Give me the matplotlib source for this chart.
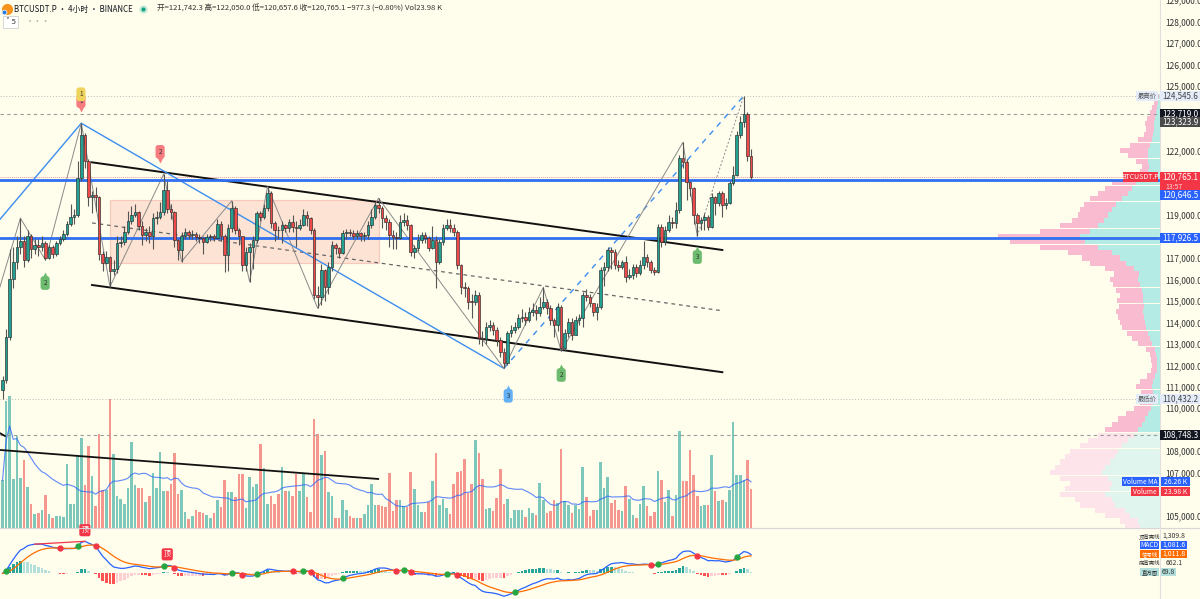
import numpy as np
import pandas as pd
import matplotlib
matplotlib.use('Agg')
import matplotlib.pyplot as plt
from matplotlib.patches import Rectangle
from matplotlib.ticker import FuncFormatter

plt.rcParams['font.family'] = ['Noto Sans CJK SC', 'DejaVu Sans']

# BTCUSDT.P 4h candles, prices in thousands of USDT (open = previous close)
first_open = 110.85
close = [111.3, 113.3, 116.0, 116.8, 117.5, 117.8, 116.9, 118.0, 117.4, 117.6,
         117.5, 117.7, 117.0, 117.5, 117.2, 117.7, 117.9, 118.1, 118.6, 118.9,
         119.0, 120.7, 122.7, 121.5, 119.85, 119.95, 119.85, 117.2, 116.75, 117.05,
         116.4, 116.5, 117.7, 117.75, 118.2, 118.7, 119.0, 119.15, 118.5, 118.05,
         118.2, 118.0, 118.85, 118.9, 119.15, 120.16, 119.3, 119.15, 117.84, 117.37,
         118.0, 118.2, 118.07, 118.12, 117.97, 117.92, 117.76, 117.97, 118.0, 117.95,
         118.6, 118.0, 117.14, 118.38, 119.31, 118.3, 118.0, 116.67, 117.29, 117.53,
         117.84, 119.08, 118.92, 119.31, 120.01, 118.61, 118.3, 118.28, 118.53, 118.38,
         118.69, 118.46, 118.38, 118.53, 119.0, 118.84, 118.3, 115.27, 115.2, 116.44,
         115.66, 116.59, 117.6, 117.45, 117.25, 118.15, 118.2, 118.18, 118.0, 118.15,
         118.0, 118.05, 118.53, 118.92, 119.47, 119.31, 118.84, 118.69, 118.07, 117.99,
         117.95, 118.69, 118.77, 118.53, 117.29, 117.45, 117.84, 118.07, 117.91, 117.45,
         117.84, 116.83, 117.76, 118.38, 118.53, 118.38, 118.22, 116.67, 115.66, 115.58,
         114.97, 114.95, 115.27, 113.26, 113.22, 113.8, 113.88, 113.65, 113.18, 112.6,
         112.09, 113.49, 113.65, 113.8, 114.19, 114.27, 114.11, 114.5, 114.58, 114.42,
         114.73, 114.97, 114.66, 114.11, 113.88, 114.73, 112.79, 113.49, 114.03, 113.41,
         114.11, 114.19, 115.27, 115.2, 114.89, 114.5, 114.73, 116.44, 116.59, 117.37,
         117.29, 116.67, 116.6, 116.83, 116.13, 116.2, 116.59, 116.28, 116.67, 117.06,
         116.83, 116.44, 116.36, 118.46, 117.76, 118.3, 118.69, 118.61, 119.23, 121.64,
         121.48, 120.55, 120.24, 119.0, 118.61, 118.77, 118.92, 118.46, 119.85, 119.54,
         120.01, 119.47, 119.54, 120.47, 120.86, 122.73, 123.35, 123.72, 121.742, 120.765]
high = [111.5, 113.7, 117.4, 117.5, 118.0, 118.85, 118.0, 118.3, 118.1, 117.9,
        117.9, 118.0, 117.8, 117.6, 117.6, 117.8, 118.0, 118.3, 118.7, 119.5,
        119.3, 121.5, 123.27, 122.8, 121.6, 120.1, 120.3, 119.9, 117.3, 117.3,
        117.1, 116.9, 118.0, 118.0, 118.5, 119.2, 119.4, 119.5, 119.2, 118.7,
        118.4, 118.5, 119.1, 119.2, 119.6, 120.9, 120.6, 119.5, 119.2, 117.9,
        118.2, 118.4, 118.3, 118.3, 118.2, 118.1, 118.0, 118.1, 118.1, 118.1,
        118.8, 118.7, 118.1, 118.6, 119.66, 119.4, 118.4, 118.0, 117.5, 117.7,
        118.0, 119.2, 119.2, 119.5, 120.32, 120.1, 118.7, 118.5, 118.7, 118.6,
        118.8, 119.0, 118.7, 118.8, 119.3, 119.2, 118.9, 118.4, 115.7, 116.7,
        116.5, 116.8, 117.8, 117.7, 117.5, 118.3, 118.35, 118.35, 118.3, 118.3,
        118.2, 118.2, 118.7, 119.3, 119.6, 119.78, 119.4, 119.0, 118.8, 118.3,
        118.2, 119.0, 119.1, 119.0, 118.6, 117.6, 118.1, 118.2, 118.2, 118.0,
        118.5, 118.0, 117.9, 118.6, 118.8, 118.8, 118.6, 118.3, 116.7, 115.9,
        115.7, 115.3, 115.5, 115.4, 113.6, 114.0, 114.1, 114.0, 113.8, 113.3,
        112.8, 113.6, 113.9, 114.0, 114.4, 114.6, 114.5, 114.7, 114.9, 114.8,
        115.2, 115.63, 115.1, 114.8, 114.2, 114.9, 114.8, 113.7, 114.2, 114.2,
        114.3, 114.4, 115.4, 115.55, 115.3, 114.9, 114.9, 116.6, 116.8, 117.5,
        117.5, 117.4, 116.9, 116.9, 117.1, 116.5, 116.7, 116.7, 116.9, 117.8,
        117.2, 116.9, 116.6, 118.6, 118.6, 118.5, 119.0, 118.9, 119.6, 121.8,
        122.38, 121.6, 120.6, 120.3, 119.1, 118.9, 119.1, 119.0, 120.0, 119.9,
        120.1, 120.1, 119.8, 120.6, 121.3, 122.9, 123.6, 124.546, 123.8, 122.05]
low = [110.43, 111.2, 113.2, 115.6, 116.5, 117.2, 116.6, 116.8, 117.0, 117.2,
       117.1, 117.3, 116.9, 116.95, 117.0, 117.1, 117.6, 117.8, 118.0, 118.5,
       118.6, 118.9, 120.6, 121.2, 119.4, 119.1, 119.2, 116.9, 116.4, 116.7,
       115.66, 116.2, 116.3, 117.5, 117.6, 118.1, 118.6, 118.9, 118.3, 117.6,
       117.8, 117.7, 117.4, 118.6, 118.8, 119.0, 119.1, 118.8, 117.5, 116.9,
       116.83, 117.9, 117.9, 117.9, 117.8, 117.7, 117.2, 117.7, 117.8, 117.8,
       117.9, 117.8, 116.36, 116.4, 118.2, 118.1, 117.6, 116.4, 116.4, 115.89,
       116.5, 117.7, 118.7, 118.8, 119.2, 118.4, 117.8, 117.9, 117.7, 118.2,
       118.2, 118.2, 117.5, 118.3, 118.5, 118.5, 118.1, 115.1, 114.66, 114.8,
       115.0, 115.3, 116.4, 117.2, 117.0, 117.2, 117.9, 118.0, 117.9, 117.9,
       117.8, 117.8, 117.9, 118.4, 118.8, 119.1, 118.4, 118.3, 117.5, 117.4,
       117.4, 117.9, 118.5, 118.3, 117.1, 117.0, 117.3, 117.7, 117.7, 117.3,
       117.4, 115.6, 116.7, 117.6, 118.3, 118.2, 118.0, 116.5, 115.3, 115.2,
       114.6, 114.2, 114.8, 113.0, 112.9, 113.0, 113.6, 113.4, 112.9, 112.4,
       111.86, 112.0, 113.3, 113.5, 113.7, 114.0, 113.9, 114.0, 114.3, 114.1,
       114.3, 114.6, 114.4, 113.9, 113.3, 113.6, 112.65, 112.7, 113.3, 113.2,
       113.4, 113.9, 113.8, 115.0, 114.7, 114.3, 114.1, 114.6, 115.7, 116.4,
       116.5, 116.5, 116.4, 116.5, 115.9, 116.0, 116.0, 116.1, 116.2, 116.5,
       116.6, 116.3, 116.2, 116.3, 117.5, 117.6, 118.2, 118.4, 118.4, 119.1,
       121.2, 119.7, 119.9, 118.6, 118.02, 118.3, 118.3, 118.3, 118.4, 119.0,
       119.4, 118.9, 119.3, 119.5, 120.4, 120.8, 122.6, 123.1, 121.5, 120.658]
# volume in K BTC
volume = [29.2, 77.9, 80.9, 29.8, 56.4, 30.4, 41.7, 25.1, 14.5, 8.3,
          9.4, 10.8, 20.2, 8.3, 6.3, 7.3, 7.3, 6.7, 39.0, 14.9,
          14.9, 44.1, 55.4, 26.3, 50.3, 31.9, 13.4, 57.8, 23.5, 23.3,
          79.3, 45.6, 19.6, 17.5, 14.5, 24.7, 52.7, 26.3, 24.3, 24.3,
          15.9, 19.4, 33.5, 24.3, 46.8, 22.6, 22.6, 26.7, 46.2, 21.0,
          23.1, 9.8, 5.7, 7.3, 11.2, 9.8, 9.2, 7.7, 5.9, 9.2,
          17.3, 13.0, 29.2, 21.8, 21.8, 19.0, 33.3, 33.3, 12.4, 31.2,
          25.3, 27.1, 51.3, 36.6, 14.9, 19.4, 14.5, 20.6, 37.4, 22.6,
          22.6, 19.6, 33.3, 22.6, 33.7, 19.0, 10.0, 67.0, 57.8, 44.5,
          47.2, 22.2, 19.4, 6.3, 6.3, 16.9, 10.8, 7.1, 6.3, 6.3,
          6.3, 8.7, 14.3, 26.7, 14.1, 14.1, 13.2, 12.6, 33.7, 10.4,
          17.3, 16.9, 13.4, 12.8, 34.1, 24.1, 13.9, 9.8, 9.8, 15.9,
          28.8, 46.2, 14.1, 17.9, 12.2, 8.7, 26.9, 34.3, 34.9, 42.3,
          21.2, 26.7, 54.3, 46.0, 30.0, 11.4, 12.0, 10.4, 18.4, 36.4,
          14.7, 17.9, 6.3, 11.2, 11.2, 11.2, 6.7, 12.4, 9.2, 7.9,
          27.6, 16.9, 9.4, 10.6, 17.1, 15.5, 48.6, 16.3, 14.3, 9.4,
          14.1, 11.8, 37.4, 18.8, 7.1, 10.8, 10.8, 40.6, 24.7, 31.2,
          15.5, 17.1, 11.0, 10.4, 25.5, 17.7, 7.7, 5.9, 14.7, 25.5,
          13.6, 7.3, 10.0, 34.9, 29.2, 15.9, 23.1, 7.3, 20.2, 59.3,
          28.6, 28.8, 47.8, 32.7, 19.8, 13.4, 14.1, 14.1, 44.7, 22.9,
          16.5, 17.1, 16.1, 23.5, 65.0, 32.7, 32.7, 29.2, 41.7, 23.98]

# drawings: zigzag swings (candle index, price)
zz_idx = [-1, 5, 12, 22, 30, 45, 50, 64, 69, 74, 88, 105, 140, 151, 156, 190, 194]
zz_px = [115.5, 118.85, 116.9, 123.27, 115.66, 120.9, 116.83, 119.66, 115.89, 120.32,
         114.66, 119.78, 111.86, 115.63, 112.65, 122.38, 118.02]
zz_open_idx = [194, 207]
zz_open_px = [118.02, 124.546]
wave_idx = [-0.7, 22, 140]
wave_px = [118.80, 123.27, 111.86]
wave_dash_idx = [140, 207]
wave_dash_px = [111.86, 124.546]
chan_idx = [25, 201]
chan_upper = [121.45, 117.37]
chan_mid = [118.63, 114.54]
chan_lower = [115.74, 111.68]
vol_line_idx = [-0.7, 104.9]
vol_line_px = [108.06, 106.71]
box_idx = [30.0, 105.1]
box_px = [116.78, 119.69]
marks = [(21.9, 124.30, '1', '#f77c80', 'v'), (21.9, 124.62, '1', '#eed45a', 'v'),
         (44, 121.94, '2', '#f77c80', 'v'), (11.9, 115.83, '2', '#6dbb6f', '^'),
         (141.2, 110.58, '3', '#64b0f4', '^'), (156, 111.55, '2', '#6dbb6f', '^'),
         (194, 117.04, '3', '#6dbb6f', '^')]
hlines_blue = [120.6465, 117.9265]
last_price = 120.7651
top_price, top_dash, prev_close = 124.5456, 123.719, 123.3239
low_price, low_dash = 110.4322, 108.7483

# visible range volume profile: row price (k), total and up volume
prof_px = np.arange(104.5, 124.51, 0.25)
prof_tot = [35, 40, 55, 65, 80, 85, 100, 95, 90, 100, 110, 105, 100, 95, 90, 80,
            72, 62, 55, 48, 42, 34, 26, 20, 17, 19, 24, 20, 13, 9, 8, 9,
            10, 14, 22, 28, 33, 38, 40, 42, 44, 41, 43, 40, 44, 47, 50, 46,
            55, 70, 78, 92, 120, 150, 162, 120, 100, 88, 82, 80, 76, 70, 62, 55,
            48, 30, 20, 18, 24, 32, 40, 30, 22, 16, 14, 15, 13, 10, 8, 6, 4]
prof_up = [20, 22, 30, 35, 45, 48, 55, 50, 48, 52, 58, 55, 50, 45, 42, 38,
           32, 26, 22, 18, 15, 12, 9, 7, 6, 7, 8, 7, 5, 3, 3, 3,
           4, 5, 8, 10, 12, 14, 15, 16, 17, 16, 17, 17, 18, 20, 22, 21,
           26, 34, 40, 48, 62, 75, 80, 70, 62, 56, 52, 48, 44, 38, 32, 28,
           24, 15, 12, 11, 12, 12, 12, 10, 8, 7, 6, 6, 5, 4, 3, 2, 1]

W, H = 1200, 599
BG = '#fffdeb'
UP, DN = '#26a69a', '#ef5350'
n = len(close)
idx = np.arange(n)
opn = [first_open] + close[:-1]
up = np.array(close) >= np.array(opn)
XL = (-0.7, 323.2)
YL = (104.427, 129.008)

fig = plt.figure(figsize=(W / 100, H / 100), dpi=100)
fig.patch.set_facecolor(BG)
rect = [0, 71 / H, 1160 / W, 528 / H]

ax_vol = fig.add_axes(rect)
ax_vol.set_facecolor(BG)
ax_prof = fig.add_axes(rect)
ax = fig.add_axes(rect)
ax_macd = fig.add_axes([0, 0, 1160 / W, 70 / H])
ax_macd.set_facecolor(BG)
for a in (ax, ax_prof):
    a.patch.set_alpha(0)
for a in (ax_vol, ax_prof, ax, ax_macd):
    for s in a.spines.values():
        s.set_visible(False)
    a.tick_params(length=0)
    a.set_xticks([])
for a in (ax_vol, ax_prof, ax_macd):
    a.set_yticks([])

# volume
vcol = [UP if u else DN for u in up]
ax_vol.bar(idx, volume, width=0.72, color=vcol, alpha=0.6, linewidth=0)
vma = pd.Series(volume).rolling(20, min_periods=1).mean()
ax_vol.plot(idx, vma, color='#2962ff', lw=0.8, alpha=0.75)
ax_vol.set_xlim(*XL)
ax_vol.set_ylim(0, 324)

# volume profile, growing leftwards from the price scale
ax_prof.set_xlim(1160, 0)
ax_prof.set_ylim(*YL)
va = prof_px > 108.75
ax_prof.barh(prof_px, prof_tot, height=0.24, left=0,
             color=np.where(va, '#f8bbd0', '#fde4ea'), linewidth=0)
ax_prof.barh(prof_px, prof_up, height=0.24, left=0,
             color=np.where(va, '#b4ebe4', '#e0f5ee'), linewidth=0)

# price pane
ax.set_xlim(*XL)
ax.set_ylim(*YL)


def ypx(a, v):
    return H - a.transData.transform((0, v))[1]


tag_prices = [top_price, top_dash, prev_close, last_price, hlines_blue[1], low_price, low_dash, 106.3]
ticks = [t for t in range(105, 130)
         if min(abs(ypx(ax, t) - ypx(ax, tp)) for tp in tag_prices) > 8 and t != 120]
ax.yaxis.tick_right()
ax.set_yticks(ticks)
ax.yaxis.set_major_formatter(FuncFormatter(lambda v, p: f'{v * 1000:,.1f}'))
ax.tick_params(axis='y', labelsize=6, labelcolor='#333333', pad=4)

ax.axhline(top_price, color='#bbbbbb', lw=0.7, ls=(0, (1, 2)))
ax.axhline(low_price, color='#bbbbbb', lw=0.7, ls=(0, (1, 2)))
ax.axhline(top_dash, color='#9a9a9a', lw=0.8, ls=(0, (3, 3)))
ax.axhline(low_dash, color='#9a9a9a', lw=0.8, ls=(0, (3, 3)))
ax.axhline(last_price, color='#f49a9a', lw=0.7, ls=(0, (1, 1)))
for hp in hlines_blue:
    ax.axhline(hp, color='#2f6ff0', lw=2, zorder=4)

ax.add_patch(Rectangle((box_idx[0], box_px[0]), box_idx[1] - box_idx[0], box_px[1] - box_px[0],
                       fc='#fbb4a8', alpha=0.35, ec='#f08080', lw=0.8, zorder=1))
ax.plot(chan_idx, chan_upper, color='#111111', lw=1.4, zorder=3)
ax.plot(chan_idx, chan_lower, color='#111111', lw=1.4, zorder=3)
ax.plot(chan_idx, chan_mid, color='#666666', lw=0.9, ls=(0, (3, 3)), zorder=3)
ax.plot(vol_line_idx, vol_line_px, color='#111111', lw=1.3, zorder=3)
ax.plot([-0.7, 0.7], [108.84, 108.71], color='#111111', lw=1.3, zorder=3)
ax.plot(wave_idx, wave_px, color='#3d8ef0', lw=1.0, zorder=3)
ax.plot(wave_dash_idx, wave_dash_px, color='#3d8ef0', lw=1.0, ls=(0, (4, 4)), zorder=3)
ax.plot(zz_idx, zz_px, color='#8a8a8a', lw=0.7, zorder=3)
ax.plot(zz_open_idx, zz_open_px, color='#8a8a8a', lw=0.7, ls=(0, (2, 2)), zorder=3)

# candles
o = np.array(opn)
c = np.array(close)
ax.vlines(idx, low, high, color='#555555', lw=0.8, zorder=5)
ax.bar(idx, np.maximum(np.abs(c - o), 0.03), bottom=np.minimum(o, c), width=0.72,
       color=['#22a192' if u else '#ee4a4a' for u in up], edgecolor='#2a2a2a', lw=0.45, zorder=6)

for mi, mp, mt, mc, mk in marks:
    ax.text(mi, mp, mt, fontsize=4.5, color='#333333', ha='center', va='center', zorder=9,
            bbox=dict(boxstyle='round,pad=0.45', fc=mc, ec='none'))
    off = -0.38 if mk == 'v' else 0.38
    ax.plot(mi, mp + off, marker=mk, ms=4, color=mc, mec='none', zorder=8)

# MACD pane
cs = pd.Series(close) * 1000
macd = cs.ewm(span=12, adjust=False).mean() - cs.ewm(span=26, adjust=False).mean()
sig = macd.ewm(span=9, adjust=False).mean()
hist = (macd - sig).values
hcol = []
for i, h in enumerate(hist):
    prev = hist[i - 1] if i else 0
    if h >= 0:
        hcol.append('#26a69a' if h >= prev else '#b2dfdb')
    else:
        hcol.append('#ff5252' if h < prev else '#ffcdd2')
ax_macd.bar(idx, hist, width=0.72, color=hcol, linewidth=0)
ax_macd.plot(idx, macd, color='#2962ff', lw=0.9)
ax_macd.plot(idx, sig, color='#ff6d00', lw=0.9)
for i in range(1, n):
    if np.sign(hist[i]) != np.sign(hist[i - 1]):
        ax_macd.plot(i, macd[i], 'o', ms=3.5, color='#26a641' if hist[i] > 0 else '#f23645', zorder=5)
for di in (23, 46):
    ax_macd.annotate('顶', (di, macd[di]), xytext=(0, 8), textcoords='offset points',
                     fontsize=5, color='white', ha='center', va='center',
                     bbox=dict(boxstyle='round,pad=0.3', fc='#f23645', ec='none'))
ax_macd.plot([9, 23], [macd[9], macd[23]], color='#f23645', lw=0.9)
ax_macd.set_xlim(*XL)
ax_macd.set_ylim(-1516, 2614)

# separators
fig.add_artist(plt.Line2D([0, 1], [71 / H, 71 / H], color='#d6d6d6', lw=0.8))
fig.add_artist(plt.Line2D([1160 / W, 1160 / W], [0, 1], color='#e0e0e0', lw=0.8))


def tag(x0, x1, yc, text, fc, tc, h=10, fs=5.8):
    fig.add_artist(Rectangle((x0 / W, 1 - (yc + h / 2) / H), (x1 - x0) / W, h / H,
                             transform=fig.transFigure, fc=fc, ec='none', zorder=5))
    fig.text((x0 + x1) / 2 / W, 1 - yc / H, text, fontsize=fs, color=tc,
             ha='center', va='center', zorder=6)


y = ypx(ax, top_price)
tag(1160, 1200, y, '124,545.6', '#e3ecf8', '#444444')
tag(1136, 1158, y, '最高价', '#e3ecf8', '#555555', fs=4.6)
tag(1160, 1200, ypx(ax, top_dash), '123,719.0', '#131722', 'white')
tag(1160, 1200, ypx(ax, prev_close), '123,323.9', '#4a4a4a', 'white')
y = ypx(ax, last_price)
fig.add_artist(Rectangle((1160 / W, 1 - (y + 15) / H), 40 / W, 20 / H,
                         transform=fig.transFigure, fc='#f23645', ec='none', zorder=5))
fig.text(1180 / W, 1 - y / H, '120,765.1', fontsize=5.8, color='white', ha='center', va='center', zorder=6)
fig.text(1165 / W, 1 - (y + 9.5) / H, '13:57', fontsize=5, color='#ffd6d6', ha='left', va='center', zorder=6)
tag(1123, 1158, y, 'BTCUSDT.P', '#f23645', 'white', fs=5)
tag(1160, 1200, ypx(ax, hlines_blue[0]) + 15, '120,646.5', '#2962ff', 'white')
tag(1160, 1200, ypx(ax, hlines_blue[1]), '117,926.5', '#2962ff', 'white')
y = ypx(ax, low_price)
tag(1160, 1200, y, '110,432.2', '#e3ecf8', '#444444')
tag(1136, 1158, y, '最低价', '#e3ecf8', '#555555', fs=4.6)
tag(1160, 1200, ypx(ax, low_dash), '108,748.3', '#131722', 'white')
y = ypx(ax_vol, vma.iloc[-1])
tag(1122, 1159, y, 'Volume MA', '#2962ff', 'white', h=9, fs=4.8)
tag(1161, 1190, y, '26.26 K', '#2962ff', 'white', h=9, fs=5)
tag(1131, 1159, y + 10, 'Volume', '#f23645', 'white', h=9, fs=4.8)
tag(1161, 1190, y + 10, '23.98 K', '#f23645', 'white', h=9, fs=5)

macd_tags = [('顶背离线', '1,309.8', BG, '#333333'),
             ('MACD', '1,081.6', '#2962ff', 'white'),
             ('信号线', '1,011.8', '#ff6d00', 'white'),
             ('底背离线', '662.1', BG, '#333333'),
             ('直方图', '69.8', '#b2dfdb', '#333333')]
for k, (nm, val, fc, tc) in enumerate(macd_tags):
    yc = 536 + 9 * k
    tag(1140, 1159, yc, nm, fc, tc, h=8.5, fs=4.8 if nm == 'MACD' else 3.9)
    tag(1161, 1187 if k < 4 else 1176, yc, val, fc, tc, h=8.5, fs=5)

# header
fig.add_artist(plt.Line2D([7 / W], [1 - 9 / H], marker='o', ms=8, color='#f7931a', mec='none'))
fig.add_artist(plt.Line2D([4 / W], [1 - 12 / H], marker='o', ms=3.5, color='#2a7de1', mec='white', mew=0.5))
fig.text(14 / W, 1 - 9 / H, 'BTCUSDT.P · 4小时 · BINANCE', fontsize=5.7, color='#131722', va='center')
fig.add_artist(plt.Line2D([143 / W], [1 - 9 / H], marker='o', ms=6, color='#c8ead9', mec='none'))
fig.add_artist(plt.Line2D([143 / W], [1 - 9 / H], marker='o', ms=3, color='#14a37f', mec='none'))
fig.text(157 / W, 1 - 9 / H,
         '开=121,742.3 高=122,050.0 低=120,657.6 收=120,765.1 −977.3 (−0.80%) Vol23.98 K',
         fontsize=5.5, color='#333333', va='center')
fig.add_artist(Rectangle((3 / W, 1 - 28 / H), 15 / W, 12 / H, transform=fig.transFigure,
                         fc='white', ec='#d0d0d0', lw=0.6))
fig.text(10.5 / W, 1 - 22 / H, '˅ 5', fontsize=5.5, color='#333333', ha='center', va='center')
fig.text(26 / W, 1 - 22 / H, '···', fontsize=6, color='#aaaaaa', va='center')

fig.savefig('out.png', dpi=100, facecolor=BG)
